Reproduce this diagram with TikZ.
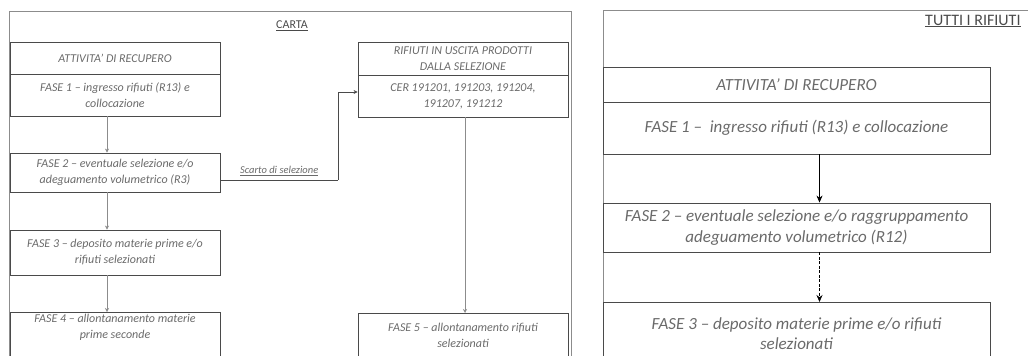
\documentclass[tikz,border=0pt]{standalone}
\usepackage{fontspec}
\setmainfont{Carlito}
\usepackage{tikz}
\usetikzlibrary{arrows.meta, positioning}
\definecolor{scangray}{HTML}{4A4A4A}
\definecolor{framegray}{HTML}{8C8C8C}
\definecolor{textgray}{HTML}{6A6A6A}

\begin{document}
\begin{tikzpicture}[x=1pt, y=-1pt,
  smallbox/.style={draw=scangray, line width=0.9pt, minimum width=210pt,
    inner sep=2pt, align=center, text=textgray,
    font=\fontsize{12}{16}\selectfont\itshape},
  bigbox/.style={draw=scangray, line width=0.9pt, minimum width=387pt,
    inner sep=2pt, align=center, text=textgray,
    font=\fontsize{17}{21}\selectfont\itshape},
  heading/.style={text=scangray, inner sep=0pt},
  frameline/.style={draw=framegray, line width=0.8pt},
  >=Stealth
]
  \useasboundingbox (0,0) rectangle (1028,356);
  \clip (0,0) rectangle (1028,356);

  % Left panel: CARTA
  \draw[frameline] (9,372) -- (9,11) -- (571,11) -- (571,372);
  \node[heading, font=\fontsize{12}{14}\selectfont] (carta) at (292,26)
    {\underline{CARTA}};

  \node[smallbox, minimum height=32pt] (recL) at (115,58)
    {ATTIVITA' DI RECUPERO};
  \node[smallbox, minimum height=42pt] (f1L) at (115,95)
    {FASE 1 -- ingresso rifiuti (R13) e\\ collocazione};
  \node[smallbox, minimum height=39pt] (f2L) at (115,172.5)
    {FASE 2 -- eventuale selezione e/o\\ adeguamento volumetrico (R3)};
  \node[smallbox, minimum height=45pt] (f3L) at (115,252.5)
    {FASE 3 -- deposito materie prime e/o\\ rifiuti selezionati};
  \node[smallbox, anchor=north, text depth=30pt] (f4L)
    at (115,312) {FASE 4 -- allontanamento materie\\ prime seconde};

  \node[smallbox, minimum height=33pt] (outL) at (463,58.5)
    {RIFIUTI IN USCITA PRODOTTI\\ DALLA SELEZIONE};
  \node[smallbox, minimum height=42pt] (cer) at (463,96)
    {CER 191201, 191203, 191204,\\ 191207, 191212};
  \node[smallbox, anchor=north, text depth=30pt] (f5L) at (463,313)
    {\rule{0pt}{16pt}FASE 5 -- allontanamento rifiuti\\ selezionati};

  \coordinate (bendA) at (338,180);
  \coordinate (bendB) at (338,92);
  \draw[scangray, line width=0.6pt] (f2L.east |- bendA) -- (bendA)
    node[pos=0.5, above=1pt, text=textgray,
      font=\fontsize{10.5}{12}\selectfont\itshape] (scarto)
      {\underline{Scarto di selezione}};
  \draw[->, scangray, line width=0.6pt, >={Stealth[length=4pt, width=4pt]}]
    (bendA) -- (bendB) -- (cer.west |- bendB);

  \draw[->, framegray, line width=0.5pt, >={Stealth[length=4pt, width=4pt]}]
    ([xshift=-8pt]f1L.south) -- ([xshift=-8pt]f2L.north);
  \draw[->, framegray, line width=0.5pt, >={Stealth[length=4pt, width=4pt]}]
    ([xshift=-8pt]f2L.south) -- ([xshift=-8pt]f3L.north);
  \draw[->, framegray, line width=0.5pt, >={Stealth[length=4pt, width=4pt]}]
    ([xshift=-8pt]f3L.south) -- ([xshift=-8pt]f4L.north);
  \draw[->, framegray, line width=0.5pt, >={Stealth[length=4pt, width=4pt]}]
    ([xshift=2pt]cer.south) -- ([xshift=2pt]f5L.north);

  % Right panel: TUTTI I RIFIUTI
  \draw[frameline] (603,372) -- (603,10) -- (1040,10);
  \node[heading, anchor=west, font=\fontsize{16}{18}\selectfont] (tutti)
    at (925,21) {\underline{TUTTI I RIFIUTI}};

  \node[bigbox, minimum height=35pt] (recR) at (796.5,84.5)
    {ATTIVITA' DI RECUPERO};
  \node[bigbox, minimum height=52pt] (f1R) at (796.5,128)
    {FASE 1 -- \ ingresso rifiuti (R13) e collocazione};
  \node[bigbox, minimum height=49pt] (f2R) at (796.5,227.5)
    {FASE 2 -- eventuale selezione e/o raggruppamento\\
     adeguamento volumetrico (R12)};
  \node[bigbox, anchor=north, text depth=30pt,
    font=\fontsize{17}{20}\selectfont\itshape] (f3R) at (796.5,302)
    {\rule{0pt}{25pt}FASE 3 -- deposito materie prime e/o rifiuti\\
     selezionati};

  \draw[->, black, line width=0.7pt, >={Stealth[length=7pt, width=6pt]}]
    ([xshift=23pt]f1R.south) -- ([xshift=23pt]f2R.north);
  \draw[->, black, line width=0.7pt, dashed, dash pattern=on 3pt off 1.5pt,
    >={Stealth[length=7pt, width=6pt]}]
    ([xshift=23pt]f2R.south) -- ([xshift=23pt]f3R.north);
\end{tikzpicture}
\end{document}
